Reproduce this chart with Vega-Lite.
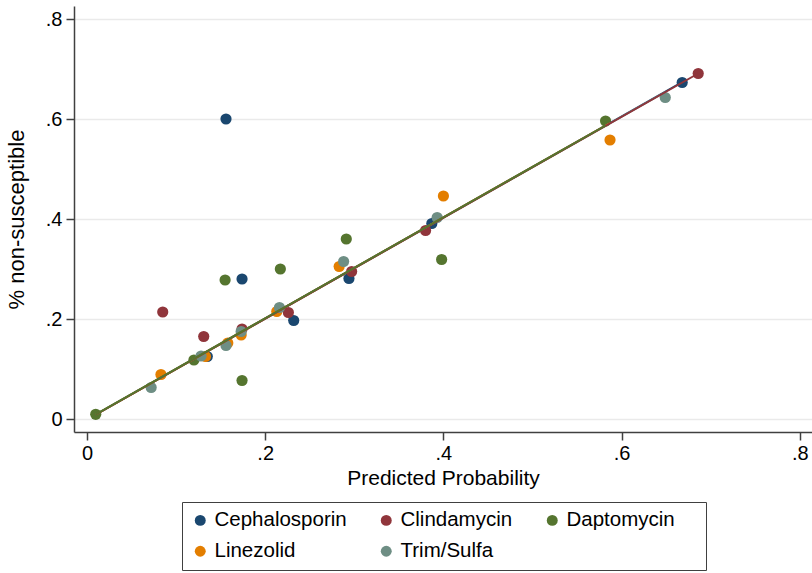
{
  "$schema": "https://vega.github.io/schema/vega-lite/v6.json",
  "width": 738,
  "height": 426,
  "autosize": {"type": "none"},
  "padding": {"left": 74, "top": 6, "right": 0, "bottom": 141},
  "background": "white",
  "config": {
    "view": {"stroke": null},
    "font": "Liberation Sans",
    "axis": {
      "domainColor": "#404040",
      "domainWidth": 1.5,
      "tickColor": "#404040",
      "tickWidth": 1.5,
      "tickSize": 8,
      "labelFontSize": 20,
      "labelColor": "#000000",
      "titleFontSize": 21,
      "titleFontWeight": "normal",
      "titleColor": "#000000",
      "gridColor": "#eaeaea",
      "gridWidth": 1.5
    }
  },
  "datasets": {
    "pts": [
      {"group": "Cephalosporin", "pred": 0.135, "obs": 0.125},
      {"group": "Cephalosporin", "pred": 0.156, "obs": 0.600},
      {"group": "Cephalosporin", "pred": 0.174, "obs": 0.280},
      {"group": "Cephalosporin", "pred": 0.232, "obs": 0.197},
      {"group": "Cephalosporin", "pred": 0.294, "obs": 0.281},
      {"group": "Cephalosporin", "pred": 0.387, "obs": 0.391},
      {"group": "Cephalosporin", "pred": 0.668, "obs": 0.673},
      {"group": "Clindamycin", "pred": 0.085, "obs": 0.214},
      {"group": "Clindamycin", "pred": 0.131, "obs": 0.165},
      {"group": "Clindamycin", "pred": 0.174, "obs": 0.180},
      {"group": "Clindamycin", "pred": 0.226, "obs": 0.213},
      {"group": "Clindamycin", "pred": 0.297, "obs": 0.295},
      {"group": "Clindamycin", "pred": 0.380, "obs": 0.377},
      {"group": "Clindamycin", "pred": 0.686, "obs": 0.691},
      {"group": "Daptomycin", "pred": 0.0098, "obs": 0.0094},
      {"group": "Daptomycin", "pred": 0.120, "obs": 0.118},
      {"group": "Daptomycin", "pred": 0.155, "obs": 0.278},
      {"group": "Daptomycin", "pred": 0.174, "obs": 0.077},
      {"group": "Daptomycin", "pred": 0.217, "obs": 0.300},
      {"group": "Daptomycin", "pred": 0.291, "obs": 0.360},
      {"group": "Daptomycin", "pred": 0.398, "obs": 0.319},
      {"group": "Daptomycin", "pred": 0.582, "obs": 0.596},
      {"group": "Linezolid", "pred": 0.083, "obs": 0.089},
      {"group": "Linezolid", "pred": 0.133, "obs": 0.125},
      {"group": "Linezolid", "pred": 0.158, "obs": 0.152},
      {"group": "Linezolid", "pred": 0.173, "obs": 0.168},
      {"group": "Linezolid", "pred": 0.213, "obs": 0.215},
      {"group": "Linezolid", "pred": 0.283, "obs": 0.305},
      {"group": "Linezolid", "pred": 0.400, "obs": 0.446},
      {"group": "Linezolid", "pred": 0.587, "obs": 0.558},
      {"group": "Trim/Sulfa", "pred": 0.072, "obs": 0.063},
      {"group": "Trim/Sulfa", "pred": 0.128, "obs": 0.126},
      {"group": "Trim/Sulfa", "pred": 0.156, "obs": 0.147},
      {"group": "Trim/Sulfa", "pred": 0.173, "obs": 0.175},
      {"group": "Trim/Sulfa", "pred": 0.216, "obs": 0.223},
      {"group": "Trim/Sulfa", "pred": 0.288, "obs": 0.315},
      {"group": "Trim/Sulfa", "pred": 0.393, "obs": 0.403},
      {"group": "Trim/Sulfa", "pred": 0.649, "obs": 0.643}
    ],
    "fit": [
      {"group": "Cephalosporin", "pred": 0.010, "fitted": 0.009},
      {"group": "Cephalosporin", "pred": 0.668, "fitted": 0.674},
      {"group": "Trim/Sulfa", "pred": 0.010, "fitted": 0.009},
      {"group": "Trim/Sulfa", "pred": 0.649, "fitted": 0.654},
      {"group": "Linezolid", "pred": 0.010, "fitted": 0.009},
      {"group": "Linezolid", "pred": 0.587, "fitted": 0.592},
      {"group": "Clindamycin", "pred": 0.010, "fitted": 0.009},
      {"group": "Clindamycin", "pred": 0.686, "fitted": 0.691},
      {"group": "Daptomycin", "pred": 0.0098, "fitted": 0.0094},
      {"group": "Daptomycin", "pred": 0.582, "fitted": 0.587}
    ]
  },
  "layer": [
    {
      "data": {"name": "pts"},
      "mark": {"type": "point", "filled": true, "opacity": 1, "size": 125, "shape": "circle"},
      "encoding": {
        "x": {
          "field": "pred", "type": "quantitative",
          "scale": {"domain": [-0.0146, 0.8137], "nice": false, "zero": false},
          "axis": {
            "title": "Predicted Probability",
            "values": [0, 0.2, 0.4, 0.6, 0.8],
            "grid": false,
            "labelPadding": 3,
            "titlePadding": 4,
            "labelExpr": "datum.value == 0 ? '0' : replace(format(datum.value, '.1f'), '0.', '.')"
          }
        },
        "y": {
          "field": "obs", "type": "quantitative",
          "scale": {"domain": [-0.026, 0.826], "nice": false, "zero": false},
          "axis": {
            "title": "% non-susceptible",
            "values": [0, 0.2, 0.4, 0.6, 0.8],
            "grid": true,
            "labelAngle": 0,
            "labelPadding": 4,
            "titlePadding": 17,
            "titleFontSize": 22,
            "labelExpr": "datum.value == 0 ? '0' : replace(format(datum.value, '.1f'), '0.', '.')"
          }
        },
        "color": {
          "field": "group", "type": "nominal",
          "scale": {
            "domain": ["Cephalosporin", "Clindamycin", "Daptomycin", "Linezolid", "Trim/Sulfa"],
            "range": ["#1a476f", "#90353b", "#55752f", "#e37e00", "#6e8e84"]
          },
          "legend": {
            "title": "\u2003",
            "titleOrient": "right",
            "titleFontSize": 17,
            "titlePadding": 23,
            "orient": "none",
            "legendX": 108,
            "legendY": 496,
            "columns": 3,
            "direction": "horizontal",
            "strokeColor": "#404040",
            "padding": 8,
            "symbolType": "circle",
            "symbolSize": 120,
            "symbolStrokeWidth": 0,
            "labelFontSize": 20.5,
            "labelColor": "#000000",
            "labelOffset": 4,
            "columnPadding": 29,
            "rowPadding": 10,
            "encode": {"legend": {"update": {"strokeWidth": {"value": 1.5}}}}
          }
        }
      }
    },
    {
      "data": {"name": "fit"},
      "mark": {"type": "line", "strokeWidth": 2},
      "encoding": {
        "x": {"field": "pred", "type": "quantitative"},
        "y": {"field": "fitted", "type": "quantitative"},
        "stroke": {
          "field": "group", "type": "nominal",
          "scale": {
            "domain": ["Cephalosporin", "Clindamycin", "Daptomycin", "Linezolid", "Trim/Sulfa"],
            "range": ["#1a476f", "#90353b", "#55752f", "#e37e00", "#6e8e84"]
          },
          "legend": null
        }
      }
    }
  ]
}
